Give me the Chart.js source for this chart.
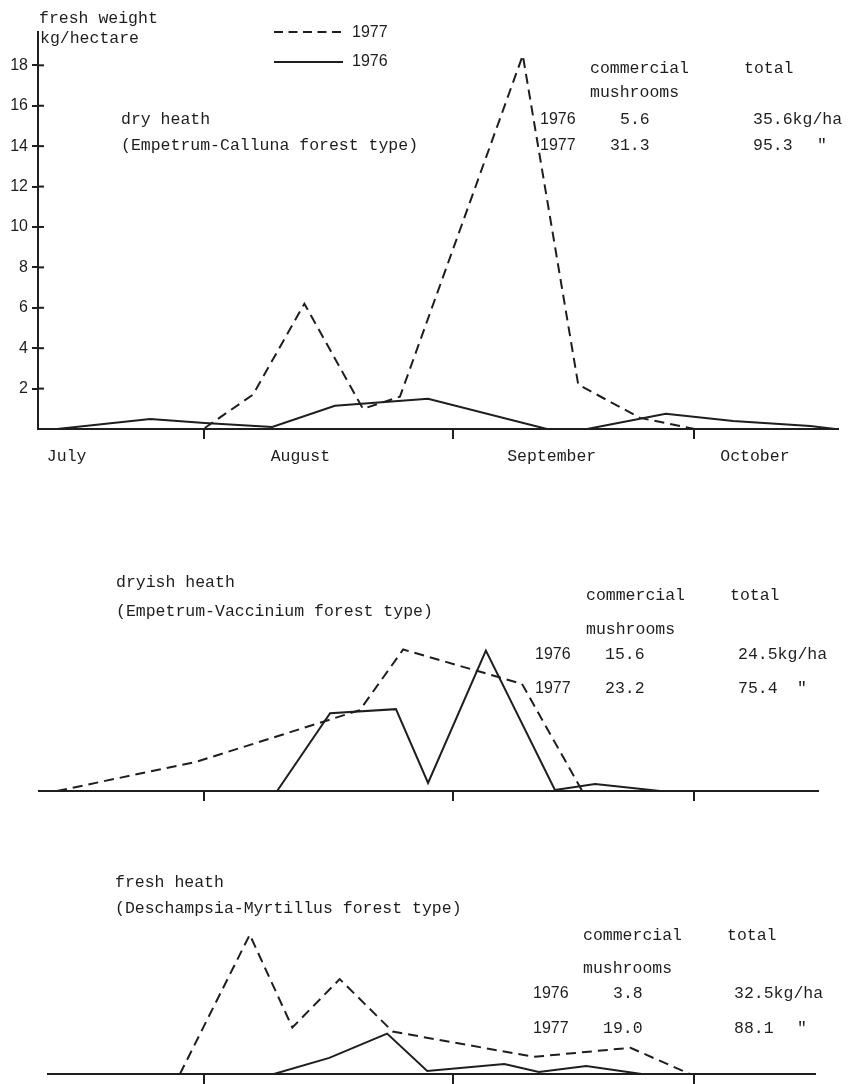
<!DOCTYPE html>
<html>
<head>
<meta charset="utf-8">
<script src="https://cdn.jsdelivr.net/npm/chart.js@4.4.0/dist/chart.umd.min.js"></script>
<style>
  body { margin: 0; background: #fff; }
  #wrap { position: relative; width: 848px; height: 1084px; }
  canvas { position: absolute; left: 0; }
</style>
</head>
<body>
<div id="wrap">
  <canvas id="c1" width="848" height="470" style="top:0px"></canvas>
  <canvas id="c2" width="848" height="360" style="top:470px"></canvas>
  <canvas id="c3" width="848" height="254" style="top:830px"></canvas>
</div>
<script>
// x values are days counted from 1 July, y values kg/ha fresh weight
const monthNames = ['July', 'August', 'September', 'October'];
const monthMidDays = [13.9, 43.0, 74.3, 99.6];
const monthStartDays = [31, 62, 92];
const yTickValues = [2, 4, 6, 8, 10, 12, 14, 16, 18];

// dry heath
const dryDays76 = [12.7, 24.3, 31.1, 39.5, 47.3, 58.9, 73.7, 78.7, 88.5, 96.9, 106.5, 109.6];
const dryKg76   = [0, 0.5, 0.3, 0.1, 1.15, 1.5, 0, 0, 0.75, 0.4, 0.15, 0];
const dryDays77 = [31.1, 37.1, 43.5, 50.8, 55.4, 70.7, 77.6, 85.3, 92.1];
const dryKg77   = [0.05, 1.7, 6.2, 1.0, 1.6, 18.5, 2.2, 0.55, 0];

// dryish heath
const dryishDays76 = [40.1, 46.7, 54.9, 58.9, 66.1, 74.7, 79.7, 87.8];
const dryishKg76   = [0, 3.85, 4.05, 0.4, 6.95, 0.05, 0.35, 0];
const dryishDays77 = [12.7, 30.1, 50.4, 55.8, 70.6, 78.1];
const dryishKg77   = [0, 1.45, 4.0, 7.0, 5.3, 0];

// fresh heath
const freshDays76 = [39.7, 46.6, 53.8, 58.8, 68.4, 72.7, 78.6, 85.5];
const freshKg76   = [0, 0.8, 2.0, 0.15, 0.5, 0.1, 0.4, 0];
const freshDays77 = [28.0, 36.7, 42.0, 47.9, 54.5, 72.1, 84.1, 91.5];
const freshKg77   = [0, 6.9, 2.3, 4.7, 2.1, 0.85, 1.3, 0];

const INK = '#1e1e1e';
const MONO = '16.5px "Liberation Mono", monospace';
const SANS = '16px "Liberation Sans", Arial, sans-serif';
const DASH = [10, 6];

function pts(days, vals) {
  return days.map((d, i) => ({ x: d, y: vals[i] }));
}

function series(d76, v76, d77, v77) {
  return [
    { label: '1977', data: pts(d77, v77), borderColor: INK, borderWidth: 2, borderDash: DASH, pointRadius: 0, tension: 0 },
    { label: '1976', data: pts(d76, v76), borderColor: INK, borderWidth: 2, pointRadius: 0, tension: 0 }
  ];
}

// text drawn on the canvas, coordinates are page coordinates
const notesPlugin = {
  id: 'notes',
  afterDraw(chart, args, opts) {
    const ctx = chart.ctx;
    ctx.save();
    ctx.fillStyle = INK;
    ctx.textBaseline = 'alphabetic';
    ctx.textAlign = 'left';
    (opts.items || []).forEach(it => {
      ctx.font = it[3] === 's' ? SANS : MONO;
      ctx.fillText(it[0], it[1], it[2] - opts.top);
    });
    ctx.restore();
  }
};

// tick marks crossing the y axis, month names, legend
const decoPlugin = {
  id: 'deco',
  afterDraw(chart, args, opts) {
    if (!opts.on) return;
    const ctx = chart.ctx;
    const xs = chart.scales.x, ys = chart.scales.y;
    ctx.save();
    ctx.strokeStyle = INK;
    ctx.lineWidth = 2;
    yTickValues.forEach(v => {
      const py = ys.getPixelForValue(v);
      ctx.beginPath();
      ctx.moveTo(xs.left, py);
      ctx.lineTo(xs.left + 6, py);
      ctx.stroke();
    });
    ctx.fillStyle = INK;
    ctx.font = MONO;
    ctx.textAlign = 'center';
    monthNames.forEach((m, i) => {
      ctx.fillText(m, xs.getPixelForValue(monthMidDays[i]), 461);
    });
    // legend
    const ds = chart.data.datasets;
    ctx.textAlign = 'left';
    ctx.font = SANS;
    [[32, 37], [62, 66]].forEach((p, i) => {
      ctx.setLineDash(i === 0 ? [9, 5.5] : []);
      ctx.beginPath();
      ctx.moveTo(274, p[0]);
      ctx.lineTo(343, p[0]);
      ctx.stroke();
      ctx.setLineDash([]);
      ctx.fillText(ds[i].label, 352, p[1]);
    });
    ctx.restore();
  }
};

function makeChart(id, data, o) {
  return new Chart(document.getElementById(id), {
    type: 'line',
    data: { datasets: data },
    plugins: [notesPlugin, decoPlugin],
    options: {
      responsive: false,
      animation: false,
      layout: { padding: o.pad },
      plugins: {
        legend: { display: false },
        tooltip: { enabled: false },
        notes: { items: o.notes, top: o.top },
        deco: { on: o.deco }
      },
      scales: {
        x: {
          type: 'linear',
          min: o.xmin, max: o.xmax,
          afterBuildTicks: s => { s.ticks = monthStartDays.map(v => ({ value: v })); },
          afterFit: s => { s.height = o.xh; },
          ticks: { display: false },
          grid: { drawOnChartArea: false, tickLength: 10, color: INK, lineWidth: 2 },
          border: { display: true, color: INK, width: 2 }
        },
        y: {
          display: o.deco,
          min: 0, max: o.ymax,
          afterBuildTicks: s => { s.ticks = yTickValues.map(v => ({ value: v })); },
          afterFit: s => { s.width = o.deco ? 38 : 0; },
          ticks: { font: { family: '"Liberation Sans", Arial, sans-serif', size: 16 }, color: INK, padding: 4 },
          grid: { drawOnChartArea: false, tickLength: 6, color: INK, lineWidth: 2 },
          border: { display: true, color: INK, width: 2 }
        }
      }
    }
  });
}

makeChart('c1', series(dryDays76, dryKg76, dryDays77, dryKg77), {
  top: 0, deco: true,
  pad: { left: 0, right: 10, top: 32, bottom: 0 },
  xmin: 10.33, xmax: 109.95, xh: 41, ymax: 19.65,
  notes: [
    ['fresh weight', 39, 23], ['kg/hectare', 40, 43],
    ['dry heath', 121, 124], ['(Empetrum-Calluna forest type)', 121, 150],
    ['commercial', 590, 73], ['total', 744, 73], ['mushrooms', 590, 97],
    ['1976', 540, 124, 's'], ['5.6', 620, 124], ['35.6kg/ha', 753, 124],
    ['1977', 540, 150, 's'], ['31.3', 610, 150], ['95.3', 753, 150], ['"', 817, 150]
  ]
});

makeChart('c2', series(dryishDays76, dryishKg76, dryishDays77, dryishKg77), {
  top: 470, deco: false,
  pad: { left: 39, right: 30, top: 170, bottom: 0 },
  xmin: 10.45, xmax: 107.46, xh: 39, ymax: 7.47,
  notes: [
    ['dryish heath', 116, 587], ['(Empetrum-Vaccinium forest type)', 116, 616],
    ['commercial', 586, 600], ['total', 730, 600], ['mushrooms', 586, 634],
    ['1976', 535, 659, 's'], ['15.6', 605, 659], ['24.5kg/ha', 738, 659],
    ['1977', 535, 693, 's'], ['23.2', 605, 693], ['75.4', 738, 693], ['"', 797, 693]
  ]
});

makeChart('c3', series(freshDays76, freshKg76, freshDays77, freshKg77), {
  top: 830, deco: false,
  pad: { left: 48, right: 33, top: 95, bottom: 0 },
  xmin: 11.57, xmax: 107.09, xh: 10, ymax: 7.38,
  notes: [
    ['fresh heath', 115, 887], ['(Deschampsia-Myrtillus forest type)', 115, 913],
    ['commercial', 583, 940], ['total', 727, 940], ['mushrooms', 583, 973],
    ['1976', 533, 998, 's'], ['3.8', 613, 998], ['32.5kg/ha', 734, 998],
    ['1977', 533, 1033, 's'], ['19.0', 603, 1033], ['88.1', 734, 1033], ['"', 797, 1033]
  ]
});
</script>
</body>
</html>
